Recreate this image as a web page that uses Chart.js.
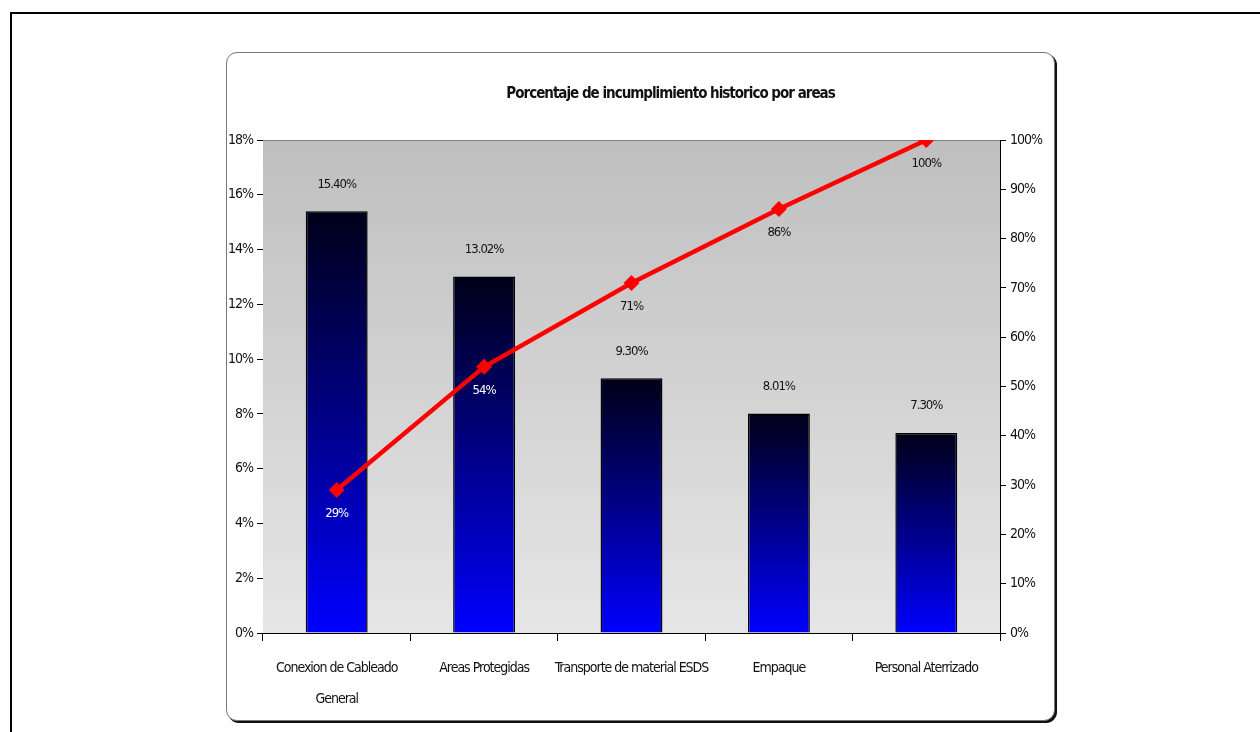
<!DOCTYPE html>
<html>
<head>
<meta charset="utf-8">
<script src="https://cdn.jsdelivr.net/npm/chart.js@4.4.0/dist/chart.umd.min.js"></script>
<style>
  body { margin: 0; background: #fff; }
  #frame { position: absolute; left: 10px; top: 12px; width: 1260px; height: 740px;
           border-top: 2px solid #000; border-left: 2px solid #000; }
  #box { position: absolute; left: 226px; top: 52px; width: 827px; height: 667px;
         border: 1px solid #777; border-radius: 11px; box-shadow: 2px 2px 0 #111; background: #fff; }
</style>
</head>
<body>
<div id="frame"></div>
<div id="box"><canvas id="paretoChart"></canvas></div>
<script>
// Values
const areas = [['Conexion de Cableado', 'General'], 'Areas Protegidas', 'Transporte de material ESDS', 'Empaque', 'Personal Aterrizado'];
const incumplimiento = [15.40, 13.02, 9.30, 8.01, 7.30];
const acumulado = [29, 54, 71, 86, 100];
const barLabels = ['15.40%', '13.02%', '9.30%', '8.01%', '7.30%'];
const lineLabels = ['29%', '54%', '71%', '86%', '100%'];
const lineLabelColors = ['#fff', '#fff', '#111', '#111', '#111'];
const chartTitle = 'Porcentaje de incumplimiento historico por areas';

const narrow = "'Liberation Sans Narrow', 'DejaVu Sans Condensed', sans-serif";

// tighter letters so the text looks like the narrow Excel font
const tightText = {
  id: 'tightText',
  beforeDraw(chart) { chart.ctx.letterSpacing = '-1px'; }
};

// grey gradient behind the plot + the title (sits right of centre in the original)
const plotBackground = {
  id: 'plotBackground',
  beforeDatasetsDraw(chart) {
    const { ctx, chartArea: a } = chart;
    const g = ctx.createLinearGradient(0, a.top, 0, a.bottom);
    g.addColorStop(0, '#bfbfbf');
    g.addColorStop(1, '#e6e6e6');
    ctx.save();
    ctx.fillStyle = g;
    ctx.fillRect(a.left, a.top, a.right - a.left, a.bottom - a.top);
    ctx.strokeStyle = '#808080';
    ctx.lineWidth = 1;
    ctx.beginPath();
    ctx.moveTo(a.left, a.top + 0.5);
    ctx.lineTo(a.right, a.top + 0.5);
    ctx.stroke();

    ctx.fillStyle = '#111';
    ctx.font = 'bold 15px ' + narrow;
    ctx.textAlign = 'center';
    ctx.textBaseline = 'middle';
    ctx.fillText(chartTitle, (a.left + a.right) / 2 + 39, 41);
    ctx.restore();
  }
};

// value labels on bars and line points
const valueLabels = {
  id: 'valueLabels',
  afterDatasetsDraw(chart) {
    const { ctx } = chart;
    ctx.save();
    ctx.font = '13px ' + narrow;
    ctx.textAlign = 'center';
    ctx.textBaseline = 'middle';
    chart.getDatasetMeta(1).data.forEach((bar, i) => {
      ctx.fillStyle = '#111';
      ctx.fillText(barLabels[i], bar.x, bar.y - 27);
    });
    chart.getDatasetMeta(0).data.forEach((pt, i) => {
      ctx.fillStyle = lineLabelColors[i];
      ctx.fillText(lineLabels[i], pt.x, pt.y + 24);
    });
    ctx.restore();
  }
};

function barGradient(context) {
  const chart = context.chart;
  if (!chart.chartArea || !chart.scales.y) return '#0000ff';
  const y = chart.scales.y;
  const top = y.getPixelForValue(incumplimiento[context.dataIndex]);
  const base = y.getPixelForValue(0);
  const g = chart.ctx.createLinearGradient(0, top, 0, base);
  g.addColorStop(0, '#000018');
  g.addColorStop(0.5, '#000088');
  g.addColorStop(1, '#0000ff');
  return g;
}

const ctx = document.getElementById('paretoChart').getContext('2d');

const paretoChart = new Chart(ctx, {
  type: 'bar',
  data: {
    labels: areas,
    datasets: [
      {
        type: 'line',
        label: 'Acumulado',
        data: acumulado,
        yAxisID: 'y1',
        borderColor: '#ff0000',
        backgroundColor: '#ff0000',
        borderWidth: 4.5,
        pointStyle: 'rectRot',
        pointRadius: 8,
        pointBorderWidth: 0,
        tension: 0,
        order: 0
      },
      {
        label: 'Incumplimiento',
        data: incumplimiento,
        yAxisID: 'y',
        backgroundColor: barGradient,
        borderColor: '#000',
        borderWidth: 1.5,
        categoryPercentage: 1,
        barPercentage: 0.42,
        order: 1
      }
    ]
  },
  options: {
    responsive: true,
    maintainAspectRatio: false,
    animation: false,
    layout: { padding: { top: 87 } },
    plugins: {
      legend: { display: false },
      tooltip: { enabled: false },
      title: { display: false }
    },
    scales: {
      x: {
        ticks: { color: '#111', font: { family: narrow, size: 14, lineHeight: 2.2 }, padding: 12, maxRotation: 0, autoSkip: false },
        grid: { color: '#000', drawOnChartArea: false, tickLength: 8, offset: true },
        border: { color: '#000', width: 1 },
        afterFit(scale) { scale.height = 87; }
      },
      y: {
        position: 'left',
        min: 0, max: 18,
        ticks: { stepSize: 2, color: '#111', font: { family: narrow, size: 14 }, padding: 4, callback: v => v + '%' },
        grid: { color: '#000', drawOnChartArea: false, tickLength: 6 },
        border: { color: '#000', width: 1 },
        afterFit(scale) { scale.width = 36; }
      },
      y1: {
        position: 'right',
        min: 0, max: 100,
        ticks: { stepSize: 10, color: '#111', font: { family: narrow, size: 14 }, padding: 4, callback: v => v + '%' },
        grid: { color: '#000', drawOnChartArea: false, tickLength: 6 },
        border: { color: '#000', width: 1 },
        afterFit(scale) { scale.width = 54; }
      }
    }
  },
  plugins: [tightText, plotBackground, valueLabels]
});
</script>
</body>
</html>
